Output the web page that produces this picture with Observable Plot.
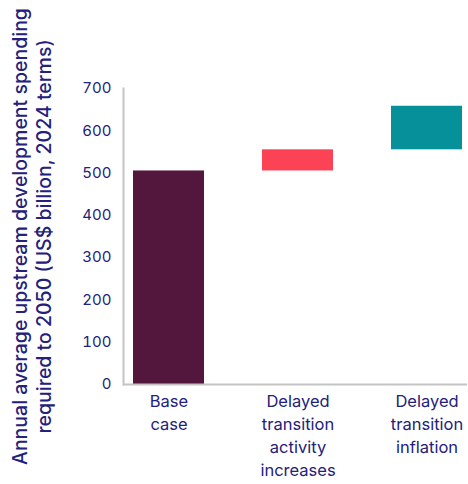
<!DOCTYPE html>
<html>
<head>
<meta charset="utf-8">
<script src="https://cdn.jsdelivr.net/npm/d3@7"></script>
<script src="https://cdn.jsdelivr.net/npm/@observablehq/plot@0.6"></script>
<style>
  html, body { margin: 0; padding: 0; background: #ffffff; }
  #chart svg { display: block; }
</style>
</head>
<body>
<div id="chart"></div>
<script>
// Waterfall of annual upstream development spending to 2050
const categories = ["Base\ncase", "Delayed\ntransition\nactivity\nincreases", "Delayed\ntransition\ninflation"];
const increments = [505, 50, 103];   // US$ billion, 2024 terms
const colors = ["#53163d", "#fc4356", "#06909a"];
const yTicks = [0, 100, 200, 300, 400, 500, 600, 700];
const yTitle = "Annual average upstream development spending\nrequired to 2050 (US$ billion, 2024 terms)";

const ink = "#23217a";
const axisGrey = "#c4c4c4";

// running totals give each step its floating start and end
let total = 0;
const steps = categories.map((c, i) => {
  const start = total;
  total += increments[i];
  return {category: c, start, end: total, color: colors[i]};
});

const chart = Plot.plot({
  width: 468,
  height: 484,
  marginLeft: 123,
  marginRight: 1,
  marginTop: 88,
  marginBottom: 100,
  style: {fontFamily: "Inter, 'Noto Sans', sans-serif", color: ink, background: "#ffffff"},
  x: {domain: categories, paddingInner: 0.45, paddingOuter: 0.05, align: 0.65, axis: null},
  y: {domain: [0, 700], axis: null},
  marks: [
    Plot.barY(steps, {x: "category", y1: "start", y2: "end", fill: "color"}),
    Plot.frame({anchor: "left", stroke: axisGrey, strokeWidth: 2}),
    Plot.ruleY([0], {stroke: axisGrey, strokeWidth: 2}),
    Plot.axisY(yTicks, {
      tickSize: 0, tickPadding: 12, fontSize: 15, fill: ink, label: null
    }),
    Plot.axisX({
      tickSize: 0, tickPadding: 6, fontSize: 16.5, fill: ink, label: null,
      lineHeight: 1.4, textOverflow: null
    }),
    Plot.text([yTitle], {
      frameAnchor: "left", rotate: -90, dx: -114, dy: 0,
      fontSize: 19.5, fontWeight: 500, fill: ink, lineHeight: 1.24,
      textAnchor: "middle", lineAnchor: "top"
    })
  ]
});

document.getElementById("chart").appendChild(chart);
</script>
</body>
</html>
